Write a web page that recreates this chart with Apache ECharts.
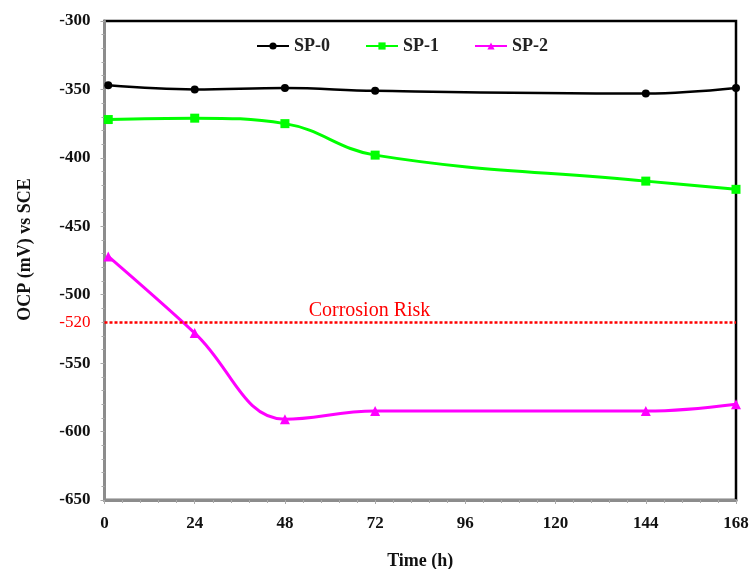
<!DOCTYPE html>
<html>
<head>
<meta charset="utf-8">
<script src="https://cdn.jsdelivr.net/npm/echarts@6/dist/echarts.min.js"></script>
<style>
  html, body { margin: 0; padding: 0; background: #fff; }
</style>
</head>
<body>
<div id="main" style="width: 752px; height: 569px"></div>
<script>
// data
const hours = [1, 24, 48, 72, 144, 168];
const sp0 = [-347, -350, -349, -351, -353, -349];
const sp1 = [-372, -371, -375, -398, -417, -423];
const sp2 = [-472, -528, -591, -585, -585, -580];
const riskLevel = -520;
const riskText = 'Corrosion Risk';
const riskTextAt = 70.5;  // hours, where the label is centred

const font = 'Liberation Serif';

function pairs(ys) {
  return hours.map((h, i) => [h, ys[i]]);
}

const myChart = echarts.init(document.getElementById('main'));

const option = {
  animation: false,
  textStyle: { fontFamily: font },
  grid: {
    left: 104.5,
    right: 16,
    top: 21,
    bottom: 69,
    outerBoundsMode: 'none',
    show: true,
    borderColor: '#000',
    borderWidth: 2.5,
    backgroundColor: 'transparent'
  },
  legend: {
    left: 256,
    top: 37,
    padding: 0,
    itemWidth: 32,
    itemHeight: 9,
    itemGap: 35,
    textStyle: { fontFamily: font, fontWeight: 'bold', fontSize: 18, color: '#222' },
    data: ['SP-0', 'SP-1', 'SP-2']
  },
  xAxis: {
    type: 'value',
    min: 0,
    max: 168,
    interval: 24,
    name: 'Time (h)',
    nameLocation: 'middle',
    nameGap: 52,
    nameTextStyle: { fontFamily: font, fontWeight: 'bold', fontSize: 18, color: '#111' },
    axisLine: { lineStyle: { color: '#8c8c8c', width: 3 } },
    axisTick: { inside: false, length: 4, lineStyle: { color: '#aaa', width: 1 } },
    minorTick: { show: true, splitNumber: 5, length: 3, lineStyle: { color: '#aaa', width: 1 } },
    splitLine: { show: false },
    axisLabel: { fontFamily: font, fontWeight: 'bold', fontSize: 17, color: '#111', margin: 15 }
  },
  yAxis: {
    type: 'value',
    min: -650,
    max: -300,
    interval: 50,
    name: 'OCP (mV) vs SCE',
    nameLocation: 'middle',
    nameGap: 70,
    nameTextStyle: {
      fontFamily: font, fontWeight: 'bold', fontSize: 18, color: '#111',
      padding: [0, 0, 0, 22]
    },
    axisLine: { show: true, lineStyle: { color: '#8c8c8c', width: 3 } },
    axisTick: { show: true, inside: false, length: 4, lineStyle: { color: '#aaa', width: 1 } },
    minorTick: { show: true, splitNumber: 5, length: 3, lineStyle: { color: '#aaa', width: 1 } },
    splitLine: { show: false },
    axisLabel: { fontFamily: font, fontWeight: 'bold', fontSize: 17, color: '#111', margin: 14 }
  },
  series: [
    {
      name: 'SP-0',
      type: 'line',
      smooth: 0.4,
      data: pairs(sp0),
      symbol: 'circle',
      symbolSize: 8,
      lineStyle: { color: '#000', width: 2.5 },
      itemStyle: { color: '#000' },
      z: 3
    },
    {
      name: 'SP-1',
      type: 'line',
      smooth: 0.4,
      data: pairs(sp1),
      symbol: 'rect',
      symbolSize: 9,
      lineStyle: { color: '#00ff00', width: 3 },
      itemStyle: { color: '#00ff00' },
      z: 3
    },
    {
      name: 'SP-2',
      type: 'line',
      smooth: 0.4,
      data: pairs(sp2),
      symbol: 'triangle',
      symbolSize: 10,
      lineStyle: { color: '#ff00ff', width: 3 },
      itemStyle: { color: '#ff00ff' },
      z: 3,
      markLine: {
        silent: true,
        symbol: 'none',
        animation: false,
        lineStyle: { color: '#ff0000', type: [3, 2], width: 2.5 },
        label: {
          position: 'start',
          distance: 14,
          formatter: String(riskLevel),
          fontFamily: font,
          fontSize: 17,
          color: '#ff0000'
        },
        data: [{ yAxis: riskLevel }]
      },
      markPoint: {
        silent: true,
        symbol: 'circle',
        symbolSize: 0,
        label: {
          show: true,
          position: 'top',
          distance: 1,
          formatter: riskText,
          fontFamily: font,
          fontSize: 20,
          color: '#ff0000'
        },
        data: [{ coord: [riskTextAt, riskLevel] }]
      }
    }
  ]
};

myChart.setOption(option);
</script>
</body>
</html>
